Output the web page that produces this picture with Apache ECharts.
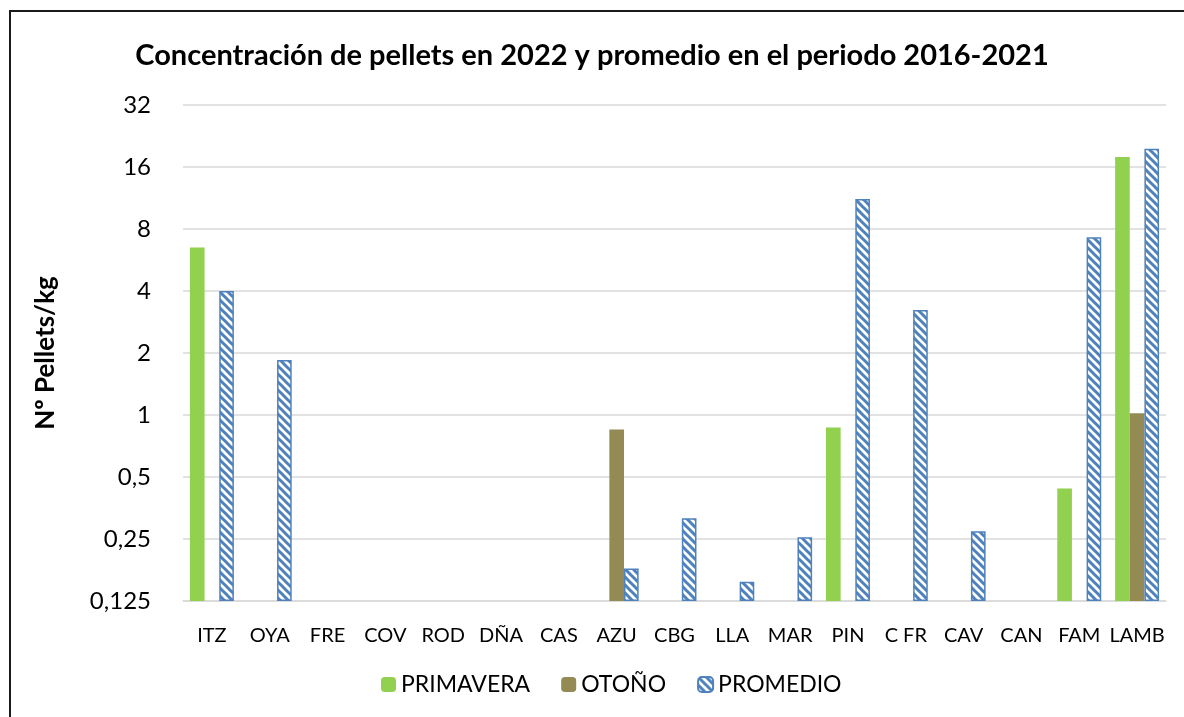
<!DOCTYPE html>
<html>
<head>
<meta charset="utf-8">
<script src="https://cdn.jsdelivr.net/npm/echarts@6/dist/echarts.min.js"></script>
<style>
html,body{margin:0;padding:0;background:#fff;}
#main{width:1184px;height:717px;position:relative;}
#frame{position:absolute;left:9px;top:10px;width:1200px;height:800px;border:2px solid #1a1a1a;box-sizing:border-box;pointer-events:none;}
</style>
</head>
<body>
<div id="main"></div>
<div id="frame"></div>
<script>
var categorias = ['ITZ','OYA','FRE','COV','ROD','DÑA','CAS','AZU','CBG','LLA','MAR','PIN','C FR','CAV','CAN','FAM','LAMB'];
// valores (Nº pellets/kg), '-' = sin barra visible
var primavera = [6.5,'-','-','-','-','-','-','-','-','-','-',0.87,'-','-','-',0.44,17.9];
var otono     = ['-','-','-','-','-','-','-',0.85,'-','-','-','-','-','-','-','-',1.02];
var promedio  = [4.0,1.85,'-','-','-','-','-',0.18,0.315,0.155,0.255,11.2,3.23,0.273,'-',7.3,19.6];
var base = 0.125;

/*patron rayado para el promedio*/
function rayado(){
	var c = document.createElement('canvas');
	c.width = 8; c.height = 8;
	var ctx = c.getContext('2d');
	ctx.fillStyle = '#ffffff';
	ctx.fillRect(0,0,8,8);
	ctx.strokeStyle = '#4f81bd';
	ctx.lineWidth = 3;
	ctx.beginPath();
	ctx.moveTo(-2,-2); ctx.lineTo(10,10);
	ctx.moveTo(-6,2); ctx.lineTo(6,14);
	ctx.moveTo(2,-6); ctx.lineTo(14,6);
	ctx.stroke();
	return c;
}
// en eje log las barras salen de 1: se apilan sobre una base invisible de 0,125
function sobreBase(arr){
	return arr.map(function(v){ return v === '-' ? '-' : v - base; });
}
function baseInvisible(arr, pila){
	return {type: 'bar', stack: pila, silent: true,
		data: arr.map(function(v){ return v === '-' ? '-' : base; }),
		itemStyle: {color: 'rgba(0,0,0,0)'}};
}

var myChart = echarts.init(document.getElementById('main'));
var fuente = 'Lato, "Open Sans", sans-serif';
option = {
	textStyle: {fontFamily: fuente},
	title: {
		text: 'Concentración de pellets en 2022 y promedio en el periodo 2016-2021',
		left: 'center',
		top: 36,
		textStyle: {fontSize: 29, fontWeight: 'bold', color: '#000', fontFamily: fuente}
	},
	legend: {
		bottom: 16,
		left: 376,
		itemWidth: 15,
		itemHeight: 15,
		itemGap: 31,
		textStyle: {fontSize: 23, color: '#000', fontFamily: fuente},
		data: ['PRIMAVERA','OTOÑO','PROMEDIO']
	},
	grid: {left: 183, right: 18, top: 105, bottom: 116},
	xAxis: {
		type: 'category',
		data: categorias,
		axisTick: {show: false},
		axisLine: {lineStyle: {color: '#d9d9d9', width: 1.5}},
		axisLabel: {color: '#000', fontSize: 20, margin: 25, interval: 0, fontFamily: fuente}
	},
	yAxis: {
		type: 'log',
		logBase: 2,
		min: 0.125,
		max: 32,
		name: 'Nº Pellets/kg',
		nameLocation: 'middle',
		nameGap: 124,
		nameTextStyle: {fontSize: 26, fontWeight: 'bold', color: '#000', fontFamily: fuente},
		axisLine: {show: false},
		axisTick: {show: false},
		splitLine: {lineStyle: {color: '#d9d9d9', width: 1.5}},
		axisLabel: {
			color: '#000', fontSize: 24, margin: 32, fontFamily: fuente,
			formatter: function(v){ return String(+v.toFixed(3)).replace('.', ','); }
		}
	},
	series: [
		baseInvisible(primavera, 'p'),
		{name: 'PRIMAVERA', type: 'bar', stack: 'p', data: sobreBase(primavera), barGap: '0%', barCategoryGap: '24%',
		 itemStyle: {color: '#92d050'}},
		baseInvisible(otono, 'o'),
		{name: 'OTOÑO', type: 'bar', stack: 'o', data: sobreBase(otono),
		 itemStyle: {color: '#948a54'}},
		baseInvisible(promedio, 'm'),
		{name: 'PROMEDIO', type: 'bar', stack: 'm', data: sobreBase(promedio),
		 itemStyle: {color: {image: rayado(), repeat: 'repeat'}, borderColor: '#4f81bd', borderWidth: 1.5}}
	]
};
myChart.setOption(option);
</script>
</body>
</html>
